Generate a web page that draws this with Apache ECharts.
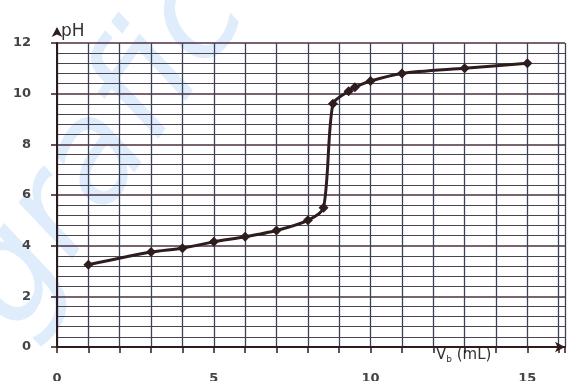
<!DOCTYPE html>
<html>
<head>
<meta charset="utf-8">
<script src="https://cdn.jsdelivr.net/npm/echarts@6/dist/echarts.min.js"></script>
<style>
  html, body { margin: 0; padding: 0; background: #fff; }
  #chart { width: 569px; height: 381px; }
</style>
</head>
<body>
<div id="chart"></div>
<script>
// titration curve: pH vs volume of base
var volumes = [1, 3, 4, 5, 6, 7, 8, 8.5, 8.8, 9.3, 9.5, 10, 11, 13, 15];
var phValues = [3.25, 3.75, 3.9, 4.15, 4.35, 4.6, 5.0, 5.5, 9.6, 10.1, 10.25, 10.5, 10.8, 11.0, 11.2];
var xLabels = [0, 5, 10, 15];

var points = volumes.map(function (v, i) { return [v, phValues[i]]; });

var ink = '#2e1c1f';
var gridInk = '#4a4452';

var myChart = echarts.init(document.getElementById('chart'));
var option = {
  backgroundColor: '#fff',
  animation: false,
  graphic: [
    {
      // faded watermark across the paper
      type: 'text',
      z: -10,
      x: 45,
      y: 355,
      rotation: 0.95,
      style: {
        text: 'grafic',
        font: 'italic 140px "DejaVu Sans"',
        verticalAlign: 'bottom',
        fill: 'rgba(140,185,245,0.28)'
      }
    },
    {
      type: 'text',
      left: 436,
      top: 348,
      style: {
        text: '{a|V}{s|b}{a| (mL)}',
        rich: {
          a: { fontSize: 15, fontFamily: 'DejaVu Sans', fill: '#333' },
          s: { fontSize: 9, fontFamily: 'DejaVu Sans', fill: '#333', padding: [8, 0, 0, 0] }
        }
      }
    }
  ],
  grid: { left: 57, right: 4, top: 43, bottom: 34, outerBoundsMode: 'none' },
  xAxis: {
    type: 'value',
    min: 0,
    max: 16.2,
    interval: 1,
    axisLine: {
      show: true,
      symbol: ['none', 'arrow'],
      symbolSize: [8, 10],
      lineStyle: { color: ink, width: 2 }
    },
    axisTick: {
      show: true,
      length: 6,
      interval: 4,
      lineStyle: { color: ink, width: 1.5 }
    },
    axisLabel: {
      margin: 25,
      color: '#444',
      fontFamily: 'DejaVu Sans',
      fontWeight: 'bold',
      fontSize: 13,
      formatter: function (v) { return xLabels.indexOf(v) >= 0 ? String(v) : ''; }
    },
    splitLine: { show: true, lineStyle: { color: '#3c4258', width: 1.3 } }
  },
  yAxis: {
    type: 'value',
    min: 0,
    max: 12,
    interval: 2,
    name: 'pH',
    nameLocation: 'end',
    nameGap: 3,
    nameTextStyle: { align: 'left', fontSize: 17, color: '#333', fontFamily: 'DejaVu Sans', padding: [0, 0, 0, 4] },
    axisLine: {
      show: true,
      symbol: ['none', 'arrow'],
      symbolSize: [8, 10],
      symbolOffset: [0, 16],
      lineStyle: { color: ink, width: 2 }
    },
    axisTick: { show: true, length: 6, lineStyle: { color: ink, width: 1.5 } },
    axisLabel: {
      margin: 26,
      color: '#444',
      fontFamily: 'DejaVu Sans',
      fontWeight: 'bold',
      fontSize: 13
    },
    minorTick: { show: false, splitNumber: 5 },
    splitLine: { show: true, lineStyle: { color: '#4a3040', width: 1.5 } },
    minorSplitLine: { show: true, lineStyle: { color: gridInk, width: 1.2 } }
  },
  series: [
    {
      type: 'line',
      data: points,
      smooth: 0.25,
      symbol: 'diamond',
      symbolSize: 10,
      itemStyle: { color: ink },
      lineStyle: { color: ink, width: 3 }
    }
  ]
};
myChart.setOption(option);
</script>
</body>
</html>
